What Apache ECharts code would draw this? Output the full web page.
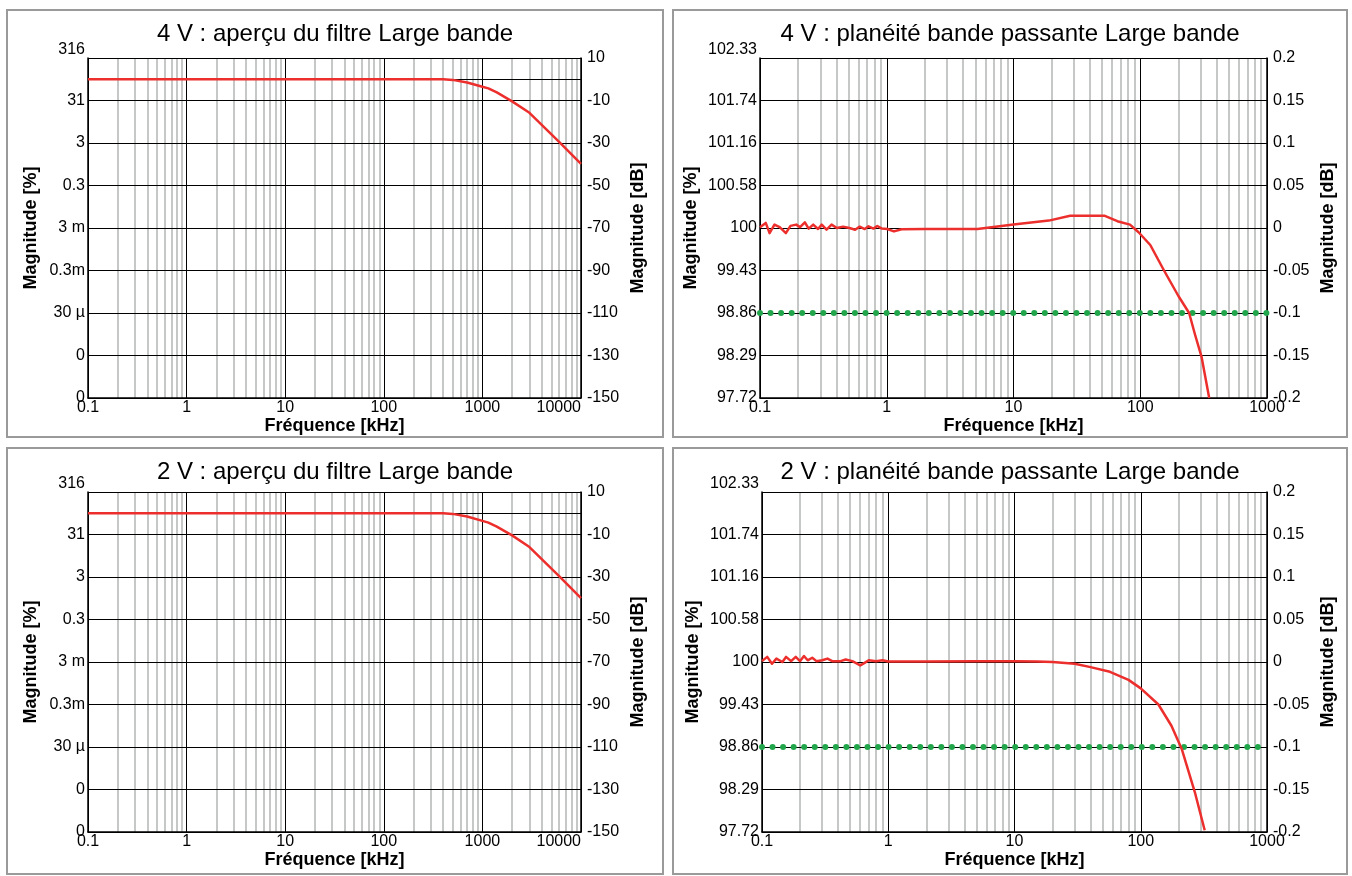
<!DOCTYPE html>
<html><head><meta charset="utf-8">
<script src="https://cdn.jsdelivr.net/npm/echarts@6/dist/echarts.min.js"></script>
<style>html,body{margin:0;padding:0;background:#fff}#c{width:1352px;height:876px}</style>
</head><body><div id="c"></div>
<script>
// ---------- data ----------
const titles = [
  '4 V : aperçu du filtre Large bande',
  '4 V : planéité bande passante Large bande',
  '2 V : aperçu du filtre Large bande',
  '2 V : planéité bande passante Large bande'
];
const ovXTicks = ['0.1','1','10','100','1000','10000'];
const flXTicks = ['0.1','1','10','100','1000'];
const ovLeftLabels = ['0','0','30 µ','0.3m','3 m','0.3','3','31','316'];
const ovRightLabels = ['-150','-130','-110','-90','-70','-50','-30','-10','10'];
const flLeftLabels = ['97.72','98.29','98.86','99.43','100','100.58','101.16','101.74','102.33'];
const flRightLabels = ['-0.2','-0.15','-0.1','-0.05','0','0.05','0.1','0.15','0.2'];

// 4 V overview (kHz, dB)
const ov4Freq = [0.1, 1, 10, 100, 400, 500, 700, 1000, 1150, 1400, 2000, 3000, 6000, 10000];
const ov4Mag  = [0, 0, 0, 0, 0, -0.3, -1.5, -3.5, -4.3, -6.2, -10.4, -15.8, -29.5, -39.8];
// 2 V overview
const ov2Freq = [0.1, 1, 10, 100, 400, 500, 700, 1000, 1150, 1400, 2000, 3000, 6000, 10000];
const ov2Mag  = [0, 0, 0, 0, 0, -0.3, -1.5, -3.6, -4.4, -6.3, -10.4, -15.9, -29.6, -39.9];

// 4 V flatness (kHz, dB)
const fl4Freq = [0.1,0.111,0.119,0.13,0.143,0.16,0.174,0.193,0.207,0.226,0.242,0.263,0.287,0.307,0.335,0.367,0.404,0.452,0.508,0.563,0.612,0.67,0.718,0.785,0.842,0.915,1.01,1.14,1.31,2,5.2,10,19,28,52,66,83,97,120,154,200,243,270,305,350];
const fl4Mag  = [0.001,0.006,-0.006,0.004,0.001,-0.006,0.0025,0.004,0.001,0.0067,-0.0007,0.004,-0.0012,0.004,-0.002,0.004,0,0.0016,0,-0.002,0.0016,-0.0012,0.002,-0.0007,0.0024,-0.0007,-0.0012,-0.004,-0.0015,-0.0012,-0.0012,0.004,0.0087,0.0145,0.0145,0.008,0.004,-0.005,-0.02,-0.05,-0.08,-0.1,-0.125,-0.152,-0.2];
// 2 V flatness
const fl2Freq = [0.1,0.11,0.12,0.13,0.145,0.155,0.17,0.185,0.2,0.215,0.23,0.25,0.27,0.3,0.33,0.36,0.42,0.46,0.52,0.6,0.65,0.7,0.8,0.9,1,2,5,10,15,20,30,40,57,80,100,138,175,212,268,321];
const fl2Mag  = [0.001,0.006,-0.002,0.004,0,0.006,0.001,0.006,0.001,0.007,0.002,0.005,0.001,0.002,0.004,0.001,0.001,0.003,0.001,-0.004,-0.001,0.002,0.001,0.002,0.0005,0.0005,0.001,0.001,0.0005,0,-0.002,-0.006,-0.0115,-0.021,-0.031,-0.05,-0.075,-0.103,-0.153,-0.198];

const limitDb = -0.1;   // green limit line

// ---------- styling / layout ----------
const FONT = '"Liberation Sans", Arial, sans-serif';
const RED = '#ec2f2c';
const GREEN = '#22a64b';
const MINOR = '#bcbfbf';

const grids = [
  {left: 88,  top: 58,  width: 493, height: 340},
  {left: 760, top: 58,  width: 507, height: 340},
  {left: 88,  top: 492, width: 493, height: 340},
  {left: 762, top: 492, width: 505, height: 340}
];
const boxes = [
  {x: 7, y: 10, w: 656, h: 427, cx: 335},
  {x: 673, y: 10, w: 674, h: 427, cx: 1010},
  {x: 7, y: 448, w: 656, h: 426, cx: 335},
  {x: 673, y: 448, w: 674, h: 426, cx: 1010}
];

function minorList(minExp, maxExp) {
  const out = [];
  for (let e = minExp; e < maxExp; e++) for (let m = 2; m <= 9; m++) out.push(+(m * Math.pow(10, e)).toPrecision(3));
  return out;
}

const labelStyle = {color: '#000', fontFamily: FONT, fontSize: 16};
const nameStyle = {color: '#000', fontFamily: FONT, fontSize: 18, fontWeight: 'bold'};

const xAxes = [], yAxes = [], series = [];
const panels = [
  {type: 'ov', freq: ov4Freq, mag: ov4Mag},
  {type: 'fl', freq: fl4Freq, mag: fl4Mag},
  {type: 'ov', freq: ov2Freq, mag: ov2Mag},
  {type: 'fl', freq: fl2Freq, mag: fl2Mag}
];

panels.forEach((p, i) => {
  const ov = p.type === 'ov';
  const xmin = 0.1, xmax = ov ? 10000 : 1000;
  const xt = ov ? ovXTicks : flXTicks;
  const ymin = ov ? -150 : -0.2, ymax = ov ? 10 : 0.2, yint = ov ? 20 : 0.05;
  const lL = ov ? ovLeftLabels : flLeftLabels;
  const rL = ov ? ovRightLabels : flRightLabels;
  xAxes.push({
    type: 'log', logBase: 10, gridIndex: i, min: xmin, max: xmax, z: 3,
    name: 'Fréquence [kHz]', nameLocation: 'middle', nameGap: 19, nameTextStyle: nameStyle,
    axisLine: {show: true, onZero: false, lineStyle: {color: '#000', width: 1.5}},
    axisTick: {show: false},
    axisLabel: Object.assign({}, labelStyle, {margin: 2, alignMaxLabel: ov ? 'right' : 'center',
      formatter: v => xt[Math.round(Math.log10(v)) + 1]}),
    splitLine: {show: true, lineStyle: {color: '#000', width: 1}}
  });
  yAxes.push({
    type: 'value', gridIndex: i, position: 'left', min: ymin, max: ymax, interval: yint, z: 3,
    name: 'Magnitude [%]', nameLocation: 'middle', nameRotate: 90, nameGap: ov ? 48 : 60, nameTextStyle: nameStyle,
    axisLine: {show: true, onZero: false, lineStyle: {color: '#000', width: 1.5}},
    axisTick: {show: false},
    axisLabel: Object.assign({}, labelStyle, {margin: 3, verticalAlignMaxLabel: 'bottom',
      formatter: v => lL[Math.round((v - ymin) / yint)]}),
    splitLine: {show: true, lineStyle: {color: '#000', width: 1}}
  });
  yAxes.push({
    type: 'value', gridIndex: i, position: 'right', min: ymin, max: ymax, interval: yint, z: 3,
    name: 'Magnitude [dB]', nameLocation: 'middle', nameRotate: 90, nameGap: ov ? 48 : 52, nameTextStyle: nameStyle,
    axisLine: {show: true, onZero: false, lineStyle: {color: '#000', width: 1.5}},
    axisTick: {show: false},
    axisLabel: Object.assign({}, labelStyle, {margin: 6,
      formatter: v => rL[Math.round((v - ymin) / yint)]}),
    splitLine: {show: false}
  });
  const yi = i * 2;
  // minor vertical grid lines (+ 0 dB reference line in overview panels)
  const mlData = minorList(-1, ov ? 4 : 3).map(v => ({xAxis: v}));
  if (ov) mlData.push({yAxis: 0, lineStyle: {color: '#000', width: 1}});
  series.push({
    type: 'line', xAxisIndex: i, yAxisIndex: yi, z: 1, silent: true,
    data: [[xmin, ymin]], showSymbol: false, lineStyle: {opacity: 0},
    markLine: {silent: true, symbol: 'none', z: 1, animation: false, label: {show: false},
      lineStyle: {color: MINOR, width: 1.7, type: 'solid'}, emphasis: {disabled: true}, data: mlData}
  });
  if (!ov) {
    series.push({
      type: 'line', xAxisIndex: i, yAxisIndex: yi, z: 4, silent: true, showSymbol: false,
      data: [[xmin, limitDb], [xmax, limitDb]],
      lineStyle: {color: GREEN, width: 6, type: [0, 10.55], cap: 'round'}
    });
  }
  series.push({
    type: 'line', xAxisIndex: i, yAxisIndex: yi, z: 5, silent: true, showSymbol: false, clip: true,
    data: p.freq.map((f, k) => [f, p.mag[k]]),
    lineStyle: {color: RED, width: 2.5, join: 'round'}
  });
});

const graphic = [];
boxes.forEach((b, i) => {
  graphic.push({type: 'rect', shape: {x: b.x, y: b.y, width: b.w, height: b.h},
    style: {fill: 'none', stroke: '#9a9a9a', lineWidth: 2}, silent: true});
  graphic.push({type: 'text', x: b.cx, y: b.y + 24, silent: true,
    style: {text: titles[i], font: '24px ' + FONT, fill: '#000', textAlign: 'center', textVerticalAlign: 'middle'}});
});

const chart = echarts.init(document.getElementById('c'), null, {renderer: 'canvas'});
chart.setOption({
  animation: false,
  backgroundColor: '#fff',
  grid: grids.map(g => Object.assign({containLabel: false}, g)),
  xAxis: xAxes,
  yAxis: yAxes,
  series: series,
  graphic: graphic
});
</script></body></html>
